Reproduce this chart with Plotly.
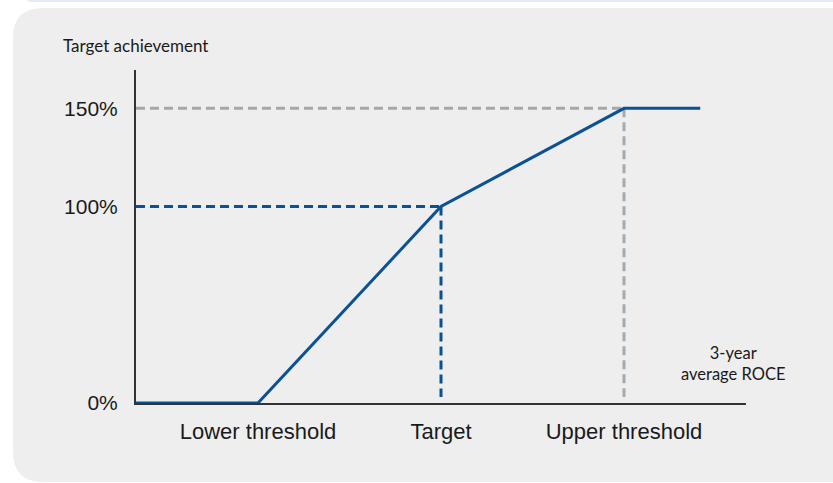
import plotly.graph_objects as go

# ---- data ----
tick_labels = ["Lower threshold", "Target", "Upper threshold"]
tick_positions = [2, 5, 8]
curve_x = [0, 2, 5, 8, 9.25]
curve_y = [0, 0, 100, 150, 150]
y_ticks = [0, 100, 150]
y_tick_labels = ["0%", "100%", "150%"]
target_point = (5, 100)
upper_point = (8, 150)

W, H = 833, 483
L, R, T, B = 136, 87, 70, 80
PW, PH = W - L - R, H - T - B


def px(x):
    return (x - L) / PW


def py(y):
    return (H - B - y) / PH


BLUE = "#0b5196"
GRAY_H = "#a7a7a7"
GRAY_V = "#a1abb1"

fig = go.Figure()

# dashed guides
fig.add_trace(go.Scatter(x=[0, upper_point[0]], y=[upper_point[1]] * 2, mode="lines",
                         line=dict(color=GRAY_H, width=3, dash="9px,5px"), hoverinfo="skip"))
fig.add_trace(go.Scatter(x=[upper_point[0]] * 2, y=[upper_point[1], 3], mode="lines",
                         line=dict(color=GRAY_V, width=3, dash="9px,5px"), hoverinfo="skip"))
fig.add_trace(go.Scatter(x=[0, target_point[0]], y=[target_point[1]] * 2, mode="lines",
                         line=dict(color=BLUE, width=3, dash="9px,5px"), hoverinfo="skip"))
fig.add_trace(go.Scatter(x=[target_point[0]] * 2, y=[target_point[1], 3], mode="lines",
                         line=dict(color=BLUE, width=3, dash="9px,5px"), hoverinfo="skip"))
# main curve
fig.add_trace(go.Scatter(x=curve_x, y=curve_y, mode="lines",
                         line=dict(color=BLUE, width=3), hoverinfo="skip"))


def rounded_rect(x0, y0, x1, y1, r):
    X0, X1 = px(x0), px(x1)
    Y0, Y1 = py(y0), py(y1)  # y0 top, y1 bottom
    rx, ry = r / PW, r / PH
    return (f"M {X0 + rx} {Y0} L {X1 - rx} {Y0} Q {X1} {Y0} {X1} {Y0 - ry} "
            f"L {X1} {Y1 + ry} Q {X1} {Y1} {X1 - rx} {Y1} "
            f"L {X0 + rx} {Y1} Q {X0} {Y1} {X0} {Y1 + ry} "
            f"L {X0} {Y0 - ry} Q {X0} {Y0} {X0 + rx} {Y0} Z")


fig.add_shape(type="path", xref="paper", yref="paper", layer="below",
              path=rounded_rect(13, 8, 860, 482, 30),
              fillcolor="#eeeeee", line=dict(width=0))
fig.add_shape(type="path", xref="paper", yref="paper", layer="below",
              path=rounded_rect(27, -8, 860, 2, 4),
              fillcolor="#e4ebf4", line=dict(width=0))

fig.add_annotation(text="Target achievement", xref="paper", yref="paper",
                   x=px(61), y=py(45), xanchor="left", yanchor="middle", showarrow=False,
                   font=dict(family="Lato", size=17, color="#1a1a1a"))
fig.add_annotation(text="3-year<br>average ROCE", xref="paper", yref="paper",
                   x=px(733), y=py(363), xanchor="center", yanchor="middle", showarrow=False,
                   font=dict(family="Lato", size=16.5, color="#1a1a1a"))

fig.update_layout(
    width=W, height=H, margin=dict(l=L, r=R, t=T, b=B),
    paper_bgcolor="white", plot_bgcolor="rgba(0,0,0,0)",
    showlegend=False,
    xaxis=dict(range=[0, 10], tickvals=tick_positions, ticktext=tick_labels,
               showgrid=False, zeroline=False, showline=True, linecolor="#333333", linewidth=2,
               ticks="", ticklabelstandoff=8,
               tickfont=dict(family="Liberation Sans", size=22, color="#1a1a1a"), fixedrange=True),
    yaxis=dict(range=[0, 169.5], tickvals=y_ticks, ticktext=y_tick_labels,
               showgrid=False, zeroline=False, showline=True, linecolor="#333333", linewidth=2,
               ticks="", ticklabelstandoff=12,
               tickfont=dict(family="Liberation Sans", size=21, color="#1a1a1a"), fixedrange=True),
)

fig.write_html("out.html")
